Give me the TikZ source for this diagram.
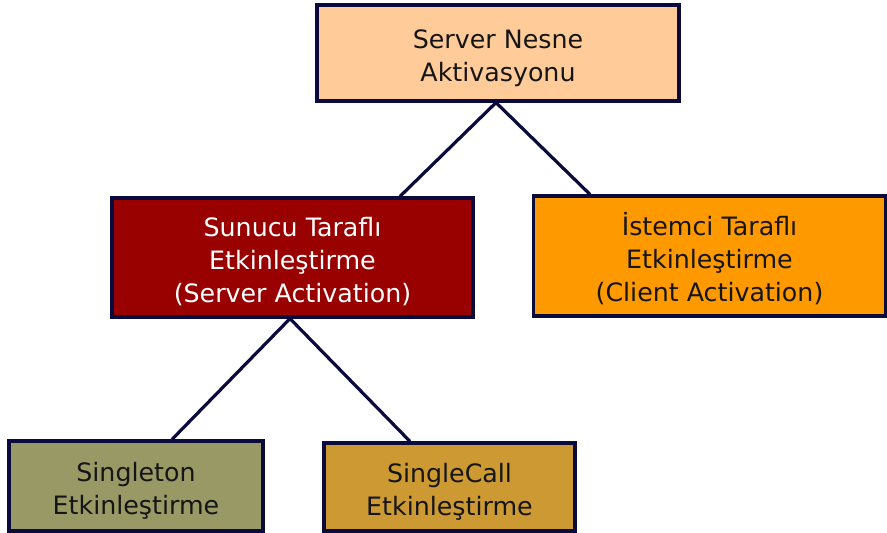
\documentclass[tikz,border=0pt]{standalone}
\usepackage{fontspec}
\setmainfont{DejaVu Sans}
\definecolor{navy}{HTML}{0A0A3C}
\definecolor{cPeach}{HTML}{FFCC99}
\definecolor{cRed}{HTML}{990000}
\definecolor{cOrange}{HTML}{FF9900}
\definecolor{cOlive}{HTML}{999966}
\definecolor{cGold}{HTML}{CC9933}
\definecolor{ink}{HTML}{151515}
\newcommand{\boxlines}[1]{\raisebox{-12pt}[0pt][0pt]{\begin{tabular}{@{}c@{}}#1\end{tabular}}}
\tikzset{
  box/.style={draw=navy, line width=3.2pt, rectangle, inner sep=0pt,
    font=\fontsize{25.3}{33}\selectfont, text=ink},
  link/.style={draw=navy, line width=3.2pt}
}
\begin{document}
\begin{tikzpicture}[x=1pt,y=1pt]
\useasboundingbox (0,0) rectangle (887,533);
\node[box, fill=cPeach, minimum width=362pt, minimum height=96pt] (top) at (498,480) {\boxlines{Server Nesne\\Aktivasyonu}};
\node[box, fill=cRed, text=white, minimum width=361pt, minimum height=119pt] (srv) at (292.5,275.5) {\boxlines{Sunucu Taraflı\\Etkinleştirme\\(Server Activation)}};
\node[box, fill=cOrange, minimum width=352pt, minimum height=120pt] (cli) at (709.5,277) {\boxlines{İstemci Taraflı\\Etkinleştirme\\(Client Activation)}};
\node[box, fill=cOlive, minimum width=254pt, minimum height=90pt] (sing) at (136,47) {\boxlines{Singleton\\Etkinleştirme}};
\node[box, fill=cGold, minimum width=251pt, minimum height=88pt] (call) at (449.5,46) {\boxlines{SingleCall\\Etkinleştirme}};
\draw[link] ([xshift=-2pt]top.south) -- ([xshift=107.5pt]srv.north);
\draw[link] ([xshift=-2pt]top.south) -- ([xshift=-119.5pt]cli.north);
\draw[link] ([xshift=-2.5pt]srv.south) -- ([xshift=36pt]sing.north);
\draw[link] ([xshift=-2.5pt]srv.south) -- ([xshift=-39.5pt]call.north);
\end{tikzpicture}
\end{document}
